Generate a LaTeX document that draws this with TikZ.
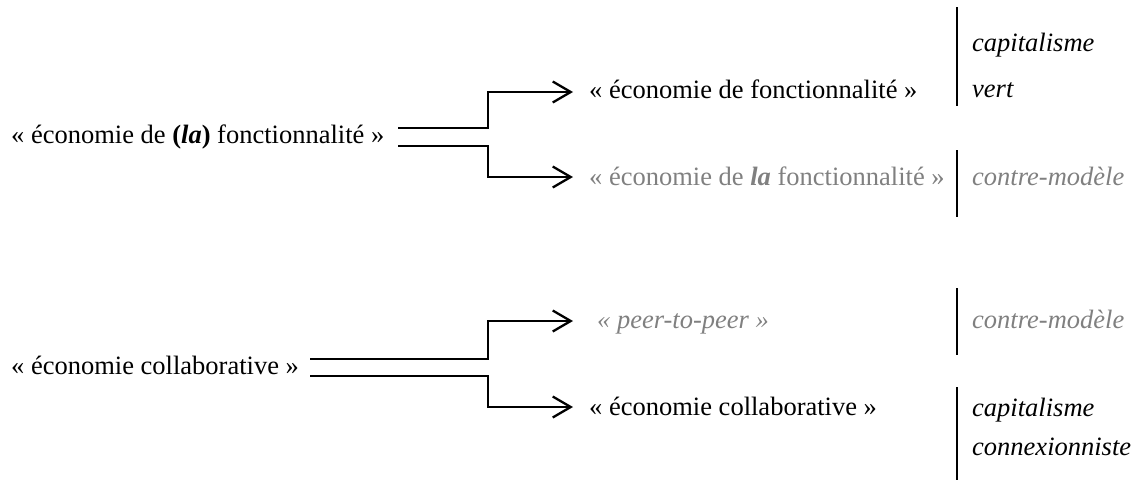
\documentclass[tikz,border=0pt]{standalone}
\usepackage{fontspec}
\setmainfont{Liberation Serif}
\usetikzlibrary{arrows.meta}
\begin{document}
\begin{tikzpicture}[x=1pt,y=-1pt,
  txt/.style={anchor=base west, inner sep=0pt, font=\fontsize{26.5}{30}\selectfont},
  gr/.style={txt, text=gray},
  conn/.style={line width=2.3pt, -{Straight Barb[length=18pt,width=21pt,line width=2.3pt]}},
  sep/.style={line width=1.4pt}]
\useasboundingbox (0,0) rectangle (1135,480);

% ---- top group ----
\node[txt] (L1) at (11,143) {« économie de \textbf{(\textit{la})} fonctionnalité »};
\node[txt] (T1) at (589,98) {« économie de fonctionnalité »};
\node[gr]  (T2) at (589,185) {« économie de \textbf{\textit{la}} fonctionnalité »};
\node[txt] (R1a) at (972,51) {\itshape capitalisme};
\node[txt] (R1b) at (972,97) {\itshape vert};
\node[gr]  (R2) at (972,185) {\itshape contre-modèle};

\coordinate (a1) at (398,128);
\coordinate (a2) at (398,146);
\coordinate (k1) at (488,92);
\coordinate (k2) at (488,177);
\coordinate (t1) at (573,92);
\coordinate (t2) at (573,177);
\draw[conn] (a1) -| (k1) -- (t1);
\draw[conn] (a2) -| (k2) -- (t2);

\coordinate (v1a) at (957,7);   \coordinate (v1b) at (957,106);
\coordinate (v2a) at (957,150); \coordinate (v2b) at (957,217);
\draw[sep] (v1a) -- (v1b);
\draw[sep] (v2a) -- (v2b);

% ---- bottom group ----
\node[txt] (L2) at (11,374) {« économie collaborative »};
\node[gr]  (P)  at (597,328) {\itshape « peer-to-peer »};
\node[txt] (C2) at (589,415) {« économie collaborative »};
\node[gr]  (R3) at (972,328) {\itshape contre-modèle};
\node[txt] (R4a) at (972,416) {\itshape capitalisme};
\node[txt] (R4b) at (972,455) {\itshape connexionniste};

\coordinate (b1) at (310,359);
\coordinate (b2) at (310,376);
\coordinate (m1) at (488,321);
\coordinate (m2) at (488,407);
\coordinate (u1) at (573,321);
\coordinate (u2) at (573,407);
\draw[conn] (b1) -| (m1) -- (u1);
\draw[conn] (b2) -| (m2) -- (u2);

\coordinate (v3a) at (957,288); \coordinate (v3b) at (957,355);
\coordinate (v4a) at (957,387); \coordinate (v4b) at (957,480);
\draw[sep] (v3a) -- (v3b);
\draw[sep] (v4a) -- (v4b);
\end{tikzpicture}
\end{document}
